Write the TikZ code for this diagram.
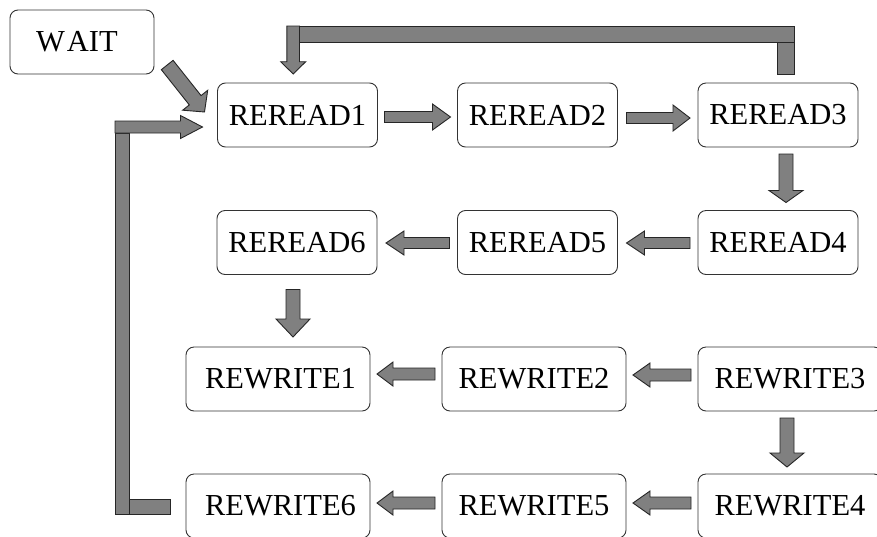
\documentclass[tikz,border=0pt]{standalone}
\usepackage{fontspec}
\setmainfont{Liberation Serif}
\usetikzlibrary{calc}
\tikzset{
  box/.style={draw=black!80, line width=0.9pt, rounded corners=8pt, inner sep=0pt, outer sep=0pt,
    minimum height=64pt, font=\fontsize{30.5}{36}\selectfont},
  rdbox/.style={box, minimum width=160pt},
  wrbox/.style={box, minimum width=184pt},
  blk/.style={fill=black!50, draw=black!85, line width=0.9pt, line join=miter}
}
\newcommand\blockarr[5]{%
  \draw[blk] let \p1=#1, \p2=#2, \n1={atan2(\y2-\y1,\x2-\x1)} in
    ($(\p1)+(\n1+90:#3pt)$) --
    ($(\p2)+(\n1+180:#5pt)+(\n1+90:#3pt)$) --
    ($(\p2)+(\n1+180:#5pt)+(\n1+90:#4pt)$) --
    (\p2) --
    ($(\p2)+(\n1+180:#5pt)+(\n1-90:#4pt)$) --
    ($(\p2)+(\n1+180:#5pt)+(\n1-90:#3pt)$) --
    ($(\p1)+(\n1-90:#3pt)$) -- cycle;}
\begin{document}
\begin{tikzpicture}[x=1pt,y=-1pt]
\useasboundingbox (0,0) rectangle (877,536);
\clip (0,0) rectangle (877,536);
% nodes
\node[box, minimum width=144pt] (wait) at (82,42) {W\kern2pt AIT\hspace*{10pt}};
\node[rdbox] (r1) at (297.5,115) {REREAD1};
\node[rdbox] (r2) at (537.5,115) {REREAD2};
\node[rdbox] (r3) at (778,115) {REREAD3};
\node[rdbox] (r4) at (778,242.5) {REREAD4};
\node[rdbox] (r5) at (537.5,242.5) {REREAD5};
\node[rdbox] (r6) at (297,242.5) {REREAD6};
\node[wrbox] (w1) at (278,379) {\hspace*{5pt}REWRITE1};
\node[wrbox] (w2) at (534,379) {REWRITE2};
\node[wrbox] (w3) at (790,379) {REWRITE3};
\node[wrbox] (w4) at (790,506) {REWRITE4};
\node[wrbox] (w5) at (534,506) {REWRITE5};
\node[wrbox] (w6) at (278,506) {\hspace*{5pt}REWRITE6};
% straight arrows
\blockarr{($(wait.south east)+(13.2,-9)$)}{($(r1.north west)+(-13,29)$)}{7.5}{16}{15}
\blockarr{($(r1.east)+(7,2)$)}{($(r2.west)+(-7,2)$)}{5.5}{13}{18}
\blockarr{($(r2.east)+(9,3)$)}{($(r3.west)+(-8,3)$)}{5.5}{13}{17}
\blockarr{($(r3.south)+(8,7)$)}{($(r4.north)+(8,-8)$)}{7}{17}{12}
\blockarr{($(r4.west)+(-8,0.5)$)}{($(r5.east)+(9,0.5)$)}{5.5}{12}{18}
\blockarr{($(r5.west)+(-8,0.5)$)}{($(r6.east)+(9,0.5)$)}{5.5}{12}{18}
\blockarr{($(r6.south)+(-4,15)$)}{($(w1.north)+(15,-10)$)}{7}{17}{18}
\blockarr{($(w3.west)+(-7,-4)$)}{($(w2.east)+(7,-4)$)}{6}{12}{17}
\blockarr{($(w2.west)+(-7,-5)$)}{($(w1.east)+(7,-5)$)}{6}{12}{16}
\blockarr{($(w3.south)+(-3,7)$)}{($(w4.north)+(-3,-7)$)}{7}{17}{14}
\blockarr{($(w4.west)+(-7,-3)$)}{($(w5.east)+(7,-3)$)}{6}{12}{17}
\blockarr{($(w5.west)+(-7,-3)$)}{($(w6.east)+(7,-3)$)}{6}{12}{16}
% top feedback REREAD3 -> REREAD1
\coordinate (fbA) at ($(r1.north)+(-4.3,-57)$);
\coordinate (fbB) at ($(r1.north)+(-4.3,-9)$);
\draw[blk] ($(fbA)+(6.3,0)$) rectangle ($(r3.north)+(16,-40.3)$);
\draw[blk] ($(r3.north)+(-0.7,-40.3)$) rectangle ($(r3.north)+(16,-9)$);
\blockarr{(fbA)}{(fbB)}{6.3}{12.5}{12.3}
% left feedback REWRITE6 -> REREAD1
\coordinate (lbS) at (115,127);
\coordinate (lbT) at ($(r1.west)+(-15,12)$);
\draw[blk] (115,133) rectangle (129.3,514);
\draw[blk] (129.3,499) rectangle ($(w6.west)+(-16,8)$);
\blockarr{(lbS)}{(lbT)}{6}{11.5}{22}
\end{tikzpicture}
\end{document}
